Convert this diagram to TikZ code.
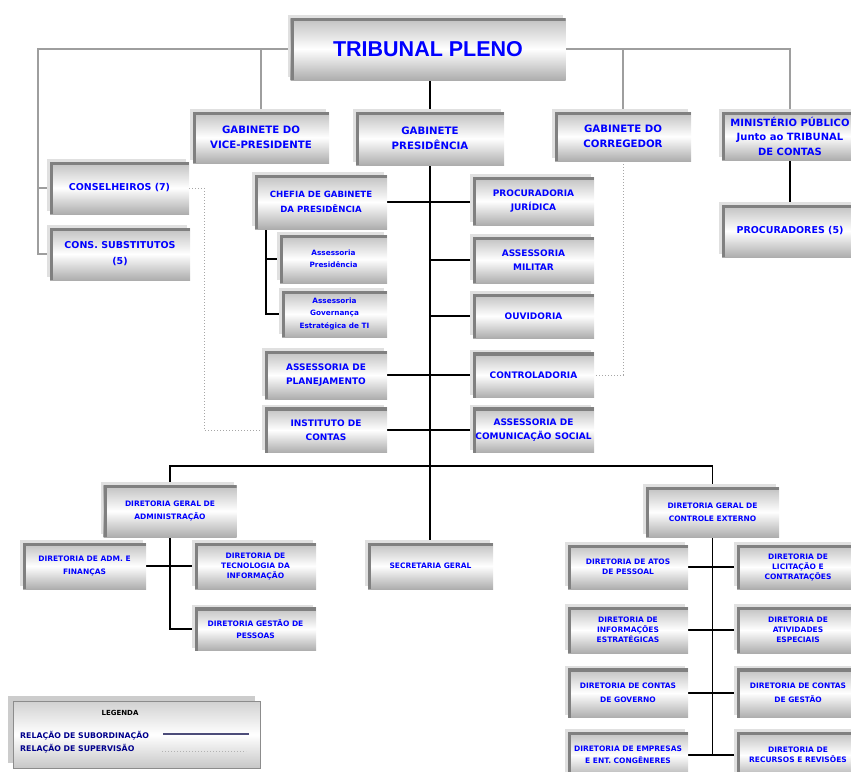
\documentclass[tikz,border=0pt]{standalone}
\usepackage{fontspec}
\setmainfont{DejaVu Sans}
\newfontfamily\titulofonte{Liberation Sans}
\usetikzlibrary{shadows,backgrounds}

\begin{document}
\begin{tikzpicture}[x=1pt,y=-1pt,
    caixa/.style={rectangle, inner sep=1pt, align=center, text=blue,
      top color=black!25, bottom color=black!32, middle color=white,
      drop shadow={shadow xshift=-3pt, shadow yshift=3pt, fill=black!12, opacity=1},
      path picture={\draw[line width=6pt, black!50]
        (path picture bounding box.south west) -- (path picture bounding box.north west)
        -- (path picture bounding box.north east);}},
    tam/.style 2 args={minimum width=#1pt, minimum height=#2pt},
    fgab/.style={font=\fontsize{10.2}{15.5}\selectfont\bfseries},
    fmed/.style={font=\fontsize{9}{14}\selectfont\bfseries},
    fcons/.style={font=\fontsize{9.5}{16}\selectfont\bfseries},
    fdir/.style={font=\fontsize{7.5}{10}\selectfont\bfseries},
    fmini/.style={font=\fontsize{7.3}{12.5}\selectfont\bfseries},
    subord/.style={line width=1.3pt, black},
    cinza/.style={line width=1.3pt, black!38},
    pontilhado/.style={line width=1pt, black!35, dotted},
    legbox/.style={rectangle, draw=black!45, line width=0.8pt,
      top color=black!18, bottom color=black!22, middle color=white,
      drop shadow={shadow xshift=-5pt, shadow yshift=5pt, fill=black!20, opacity=1}}]
  \useasboundingbox (0,0) rectangle (851,771);

  % Tribunal Pleno e gabinetes
  \node at (428,49) (pleno) [caixa, tam={275}{62}, font=\titulofonte\fontsize{21.5}{24}\selectfont\bfseries] {TRIBUNAL PLENO};
  \node at (261,137.5) (vice) [caixa, tam={136}{51}, fgab] {GABINETE DO\\VICE-PRESIDENTE};
  \node at (430,138.5) (pres) [caixa, tam={148}{53}, fgab] {GABINETE\\PRESIDÊNCIA};
  \node at (623,136.5) (correg) [caixa, tam={136}{49}, fgab] {GABINETE DO\\CORREGEDOR};
  \node at (790,136) (mp) [caixa, tam={136}{48}, font=\fontsize{10}{14.5}\selectfont\bfseries] {MINISTÉRIO PÚBLICO\\Junto ao TRIBUNAL\\DE CONTAS};
  \node at (790,231) (procs) [caixa, tam={136}{52}, fcons] {PROCURADORES (5)};

  % Conselheiros
  \node at (119.5,188) (cons) [caixa, tam={139}{52}, fcons] {CONSELHEIROS (7)};
  \node at (120,254) (subst) [caixa, tam={140}{52}, fcons] {CONS. SUBSTITUTOS\\(5)};

  % Presidencia - lado esquerdo
  \node at (321,202) (chefia) [caixa, tam={132}{54}, font=\fontsize{8.6}{15}\selectfont\bfseries] {CHEFIA DE GABINETE\\DA PRESIDÊNCIA};
  \node at (333.5,259) (asspres) [caixa, tam={107}{48}, fmini] {Assessoria\\Presidência};
  \node at (334.5,314) (assgov) [caixa, tam={105}{46}, fmini] {Assessoria\\Governança\\Estratégica de TI};
  \node at (326,375) (planej) [caixa, tam={122}{48}, fmed] {ASSESSORIA DE\\PLANEJAMENTO};
  \node at (326,430) (instit) [caixa, tam={122}{45}, fmed] {INSTITUTO DE\\CONTAS};

  % Presidencia - lado direito
  \node at (533.5,201) (procjur) [caixa, tam={121}{48}, fmed] {PROCURADORIA\\JURÍDICA};
  \node at (533.5,260) (assmil) [caixa, tam={121}{46}, fmed] {ASSESSORIA\\MILITAR};
  \node at (533.5,316) (ouvid) [caixa, tam={121}{44}, fmed] {OUVIDORIA};
  \node at (533.5,375) (control) [caixa, tam={121}{45}, fmed] {CONTROLADORIA};
  \node at (533.5,430) (comun) [caixa, tam={121}{45}, fmed] {ASSESSORIA DE\\COMUNICAÇÃO SOCIAL};

  % Diretoria geral de administracao
  \node at (170,511) (dga) [caixa, tam={133}{52}, fdir] {DIRETORIA GERAL DE\\[3pt]ADMINISTRAÇÃO};
  \node at (84.5,566) (dafin) [caixa, tam={123}{46}, fdir] {DIRETORIA DE ADM. E\\[3pt]FINANÇAS};
  \node at (255.5,566) (dti) [caixa, tam={121}{46}, fdir] {DIRETORIA DE\\TECNOLOGIA DA\\INFORMAÇÃO};
  \node at (255.5,629) (dgp) [caixa, tam={121}{43}, fdir] {DIRETORIA GESTÃO DE\\[2pt]PESSOAS};
  \node at (430.5,566) (secger) [caixa, tam={125}{46}, fdir] {SECRETARIA GERAL};

  % Diretoria geral de controle externo
  \node at (712.5,512) (dgce) [caixa, tam={133}{50}, fdir] {DIRETORIA GERAL DE\\[3pt]CONTROLE EXTERNO};
  \node at (628,567) (datos) [caixa, tam={120}{44}, fdir] {DIRETORIA DE ATOS\\DE PESSOAL};
  \node at (628,630) (dinf) [caixa, tam={120}{46}, fdir] {DIRETORIA DE\\INFORMAÇÕES\\ESTRATÉGICAS};
  \node at (628,693) (dcgov) [caixa, tam={120}{49}, fdir] {DIRETORIA DE CONTAS\\[4pt]DE GOVERNO};
  \node at (628,755) (demp) [caixa, tam={120}{46}, fdir] {DIRETORIA DE EMPRESAS\\[1.5pt]E ENT. CONGÊNERES};
  \node at (798,567) (dlic) [caixa, tam={122}{44}, fdir] {DIRETORIA DE\\LICITAÇÃO E\\CONTRATAÇÕES};
  \node at (798,630) (dativ) [caixa, tam={122}{46}, fdir] {DIRETORIA DE\\ATIVIDADES\\ESPECIAIS};
  \node at (798,693) (dcgest) [caixa, tam={122}{49}, fdir] {DIRETORIA DE CONTAS\\[4pt]DE GESTÃO};
  \node at (798,755) (drec) [caixa, tam={122}{46}, fdir] {DIRETORIA DE\\RECURSOS E REVISÕES};

  % Legenda
  \node at (136.5,734.5) (legenda) [legbox, tam={247}{67}] {};
  \node at (120,713) (legtit) [font=\fontsize{7}{8}\selectfont\bfseries] {LEGENDA};
  \node at (20,736) (legsub) [anchor=west, inner sep=0pt, text=blue!55!black, font=\fontsize{7.8}{9}\selectfont\bfseries] {RELAÇÃO DE SUBORDINAÇÃO};
  \node at (20,749) (legsup) [anchor=west, inner sep=0pt, text=blue!55!black, font=\fontsize{7.8}{9}\selectfont\bfseries] {RELAÇÃO DE SUPERVISÃO};
  \coordinate (subA) at (163,734);
  \coordinate (subB) at (249,734);
  \coordinate (supA) at (162,751);
  \coordinate (supB) at (246,751);
  \draw[line width=2pt, blue!25!black!70] (subA) -- (subB);
  \draw[pontilhado, black!30] (supA) -- (supB);

  \begin{scope}[on background layer]
    % relacoes do pleno (cinza)
    \coordinate (canto) at (38,49);
    \draw[cinza] (pleno.west) -- (canto) |- (subst.west);
    \draw[cinza] (canto) |- (cons.west);
    \draw[cinza] (vice.north) -- (vice.north |- pleno.west);
    \draw[cinza] (pleno.east) -| (mp.north);
    \draw[cinza] (correg.north) -- (correg.north |- pleno.east);
    % subordinacao
    \draw[subord] (pres.north |- pleno.south) -- (pres.north);
    \draw[subord] (pres.south) -- (pres.south |- secger.north);
    \draw[subord] (mp) -- (procs);
    \draw[subord] (chefia.east) -- (chefia.east -| procjur.west);
    \draw[subord] (pres.south |- assmil.west) -- (assmil.west);
    \draw[subord] (pres.south |- ouvid.west) -- (ouvid.west);
    \draw[subord] (planej.east) -- (control.west);
    \draw[subord] (instit.east) -- (comun.west);
    \coordinate (chefiaTronco) at (266,229);
    \draw[subord] (chefiaTronco) |- (asspres.west);
    \draw[subord] (chefiaTronco) |- (assgov.west);
    \coordinate (barra) at (430,466);
    \draw[subord] (dga.north) |- (barra) -| (dgce.north);
    \draw[subord] (dga.south) |- (dgp.west);
    \draw[subord] (dafin.east) -- (dti.west);
    \draw[subord] (dgce.south) -- (dgce.south |- demp.east);
    \draw[subord] (datos.east) -- (dlic.west);
    \draw[subord] (dinf.east) -- (dativ.west);
    \draw[subord] (dcgov.east) -- (dcgest.west);
    \draw[subord] (demp.east) -- (drec.west);
    % supervisao (pontilhado)
    \draw[pontilhado] (cons.east) -- ++(15,0) |- (instit.west);
    \draw[pontilhado] (correg.south) |- (control.east);
  \end{scope}
\end{tikzpicture}
\end{document}
